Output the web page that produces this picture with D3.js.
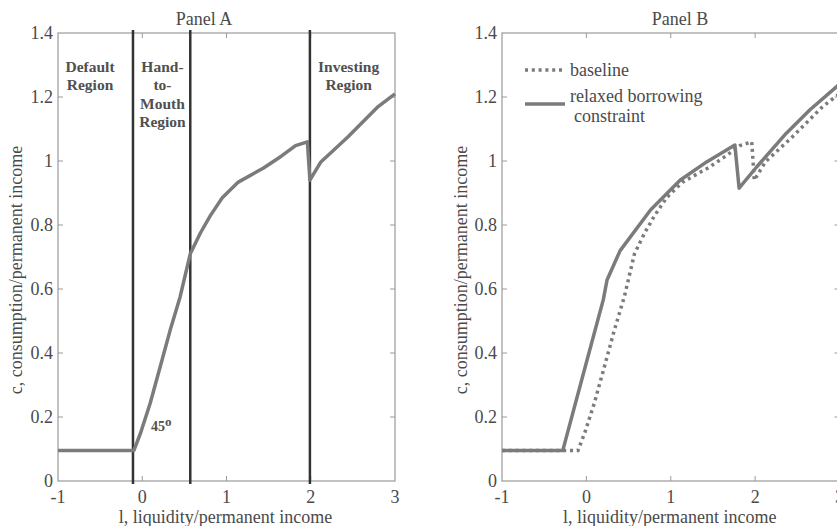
<!DOCTYPE html>
<html>
<head>
<meta charset="utf-8">
<script src="https://cdn.jsdelivr.net/npm/d3@7"></script>
<style>
  body { margin: 0; background: #fff; }
  text { font-family: "Liberation Serif", "Times New Roman", serif; fill: #4a4a4a; }
</style>
</head>
<body>
<svg id="chart" width="837" height="526"></svg>
<script>
// ---- data ----
const xTicks = [-1, 0, 1, 2, 3];
const yTicks = [0, 0.2, 0.4, 0.6, 0.8, 1, 1.2, 1.4];
const yTickLabels = ["0", "0.2", "0.4", "0.6", "0.8", "1", "1.2", "1.4"];

// baseline consumption rule (panel A curve, panel B dotted)
const baselineL = [-1, -0.1, -0.02, 0.095, 0.235, 0.33, 0.45, 0.57, 0.69, 0.81, 0.95, 1.14, 1.44, 1.65, 1.82, 1.96, 1.99, 2.12, 2.44, 2.8, 3.0];
const baselineC = [0.095, 0.095, 0.15, 0.244, 0.378, 0.47, 0.576, 0.71, 0.775, 0.83, 0.885, 0.934, 0.978, 1.015, 1.048, 1.06, 0.94, 0.997, 1.075, 1.17, 1.21];

// relaxed borrowing constraint (panel B solid)
const relaxedL = [-1, -0.28, 0.008, 0.2, 0.245, 0.4, 0.76, 1.11, 1.43, 1.76, 1.81, 2.02, 2.37, 2.65, 3.0];
const relaxedC = [0.095, 0.095, 0.378, 0.566, 0.628, 0.72, 0.847, 0.94, 0.998, 1.05, 0.915, 0.982, 1.087, 1.16, 1.24];

// region boundaries in panel A
const regionBounds = [-0.11, 0.57, 1.99];
const regionLabels = [
  { x: -0.62, lines: ["Default", "Region"] },
  { x: 0.24, lines: ["Hand-", "to-", "Mouth", "Region"] },
  { x: 2.45, lines: ["Investing", "Region"] }
];

const svg = d3.select("#chart");
const curveColor = "#7b7b7b";

function drawPanel(cfg) {
  const x = d3.scaleLinear().domain([-1, 3]).range([cfg.left, cfg.right]);
  const y = d3.scaleLinear().domain([0, 1.4]).range([481, 33]);
  const g = svg.append("g");

  // frame
  g.append("rect")
    .attr("x", x(-1)).attr("y", y(1.4))
    .attr("width", x(3) - x(-1)).attr("height", y(0) - y(1.4))
    .attr("fill", "none").attr("stroke", "#9a9a9a").attr("stroke-width", 1.2);

  // inward ticks on all four sides
  const tl = 5;
  xTicks.slice(1, -1).forEach(t => {
    g.append("line").attr("x1", x(t)).attr("x2", x(t)).attr("y1", y(0)).attr("y2", y(0) - tl)
      .attr("stroke", "#9a9a9a");
    g.append("line").attr("x1", x(t)).attr("x2", x(t)).attr("y1", y(1.4)).attr("y2", y(1.4) + tl)
      .attr("stroke", "#9a9a9a");
  });
  yTicks.slice(1, -1).forEach(t => {
    g.append("line").attr("x1", x(-1)).attr("x2", x(-1) + tl).attr("y1", y(t)).attr("y2", y(t))
      .attr("stroke", "#9a9a9a");
    g.append("line").attr("x1", x(3)).attr("x2", x(3) - tl).attr("y1", y(t)).attr("y2", y(t))
      .attr("stroke", "#9a9a9a");
  });

  // tick labels
  g.selectAll(".xt").data(xTicks).join("text")
    .attr("x", d => x(d)).attr("y", 503)
    .attr("text-anchor", "middle").style("font-size", "18px")
    .text(d => d);
  g.selectAll(".yt").data(yTicks).join("text")
    .attr("x", x(-1) - 5).attr("y", d => y(d) + 6)
    .attr("text-anchor", "end").style("font-size", "18px")
    .text((d, i) => yTickLabels[i]);

  // titles
  g.append("text").attr("x", cfg.titleX).attr("y", 25)
    .attr("text-anchor", "middle").style("font-size", "18px").text(cfg.title);
  g.append("text").attr("x", (x(-1) + x(3)) / 2 - 1).attr("y", 523)
    .attr("text-anchor", "middle").style("font-size", "18px")
    .text("l, liquidity/permanent income");
  g.append("text")
    .attr("transform", `translate(${cfg.yLabelX},270) rotate(-90)`)
    .attr("text-anchor", "middle").style("font-size", "18px")
    .text("c, consumption/permanent income");

  return { g, x, y };
}

// ---- Panel A ----
const A = drawPanel({ left: 58, right: 395, title: "Panel A", titleX: 204, yLabelX: 22 });

A.g.selectAll(".bound").data(regionBounds).join("line")
  .attr("x1", d => A.x(d)).attr("x2", d => A.x(d))
  .attr("y1", A.y(1.4) - 3).attr("y2", A.y(0) + 3)
  .attr("stroke", "#333").attr("stroke-width", 2.5);

const lineGen = (sx, sy, xs, ys) => d3.line().x(i => sx(xs[i])).y(i => sy(ys[i]))(d3.range(xs.length));

A.g.append("path")
  .attr("d", lineGen(A.x, A.y, baselineL, baselineC))
  .attr("fill", "none").attr("stroke", curveColor).attr("stroke-width", 3.5)
  .attr("stroke-linejoin", "round");

regionLabels.forEach(r => {
  const t = A.g.append("text")
    .attr("x", A.x(r.x)).attr("y", 72)
    .attr("text-anchor", "middle")
    .style("font-size", "15.5px").style("font-weight", "bold").style("fill", "#505050");
  r.lines.forEach((s, i) => {
    t.append("tspan").attr("x", A.x(r.x)).attr("dy", i === 0 ? 0 : 18.3).text(s);
  });
});

const deg = A.g.append("text").attr("x", 151).attr("y", 431)
  .style("font-size", "14px").style("font-weight", "bold").style("fill", "#505050");
deg.append("tspan").text("45");
deg.append("tspan").attr("dy", -5).style("font-size", "13px").text("o");

// ---- Panel B ----
const B = drawPanel({ left: 502, right: 839.5, title: "Panel B", titleX: 680, yLabelX: 467 });

B.g.append("path")
  .attr("d", lineGen(B.x, B.y, baselineL, baselineC))
  .attr("fill", "none").attr("stroke", curveColor).attr("stroke-width", 3.5)
  .attr("stroke-dasharray", "3 3.8");

B.g.append("path")
  .attr("d", lineGen(B.x, B.y, relaxedL, relaxedC))
  .attr("fill", "none").attr("stroke", curveColor).attr("stroke-width", 3.5)
  .attr("stroke-linejoin", "round");

// legend
B.g.append("line").attr("x1", 525).attr("x2", 564).attr("y1", 70).attr("y2", 70)
  .attr("stroke", curveColor).attr("stroke-width", 3.5).attr("stroke-dasharray", "3 3.8");
B.g.append("text").attr("x", 570).attr("y", 76).style("font-size", "18px").text("baseline");
B.g.append("line").attr("x1", 525).attr("x2", 565).attr("y1", 104).attr("y2", 104)
  .attr("stroke", curveColor).attr("stroke-width", 3.5);
B.g.append("text").attr("x", 570).attr("y", 102).style("font-size", "18px").text("relaxed borrowing");
B.g.append("text").attr("x", 574).attr("y", 122).style("font-size", "18px").text("constraint");
</script>
</body>
</html>
